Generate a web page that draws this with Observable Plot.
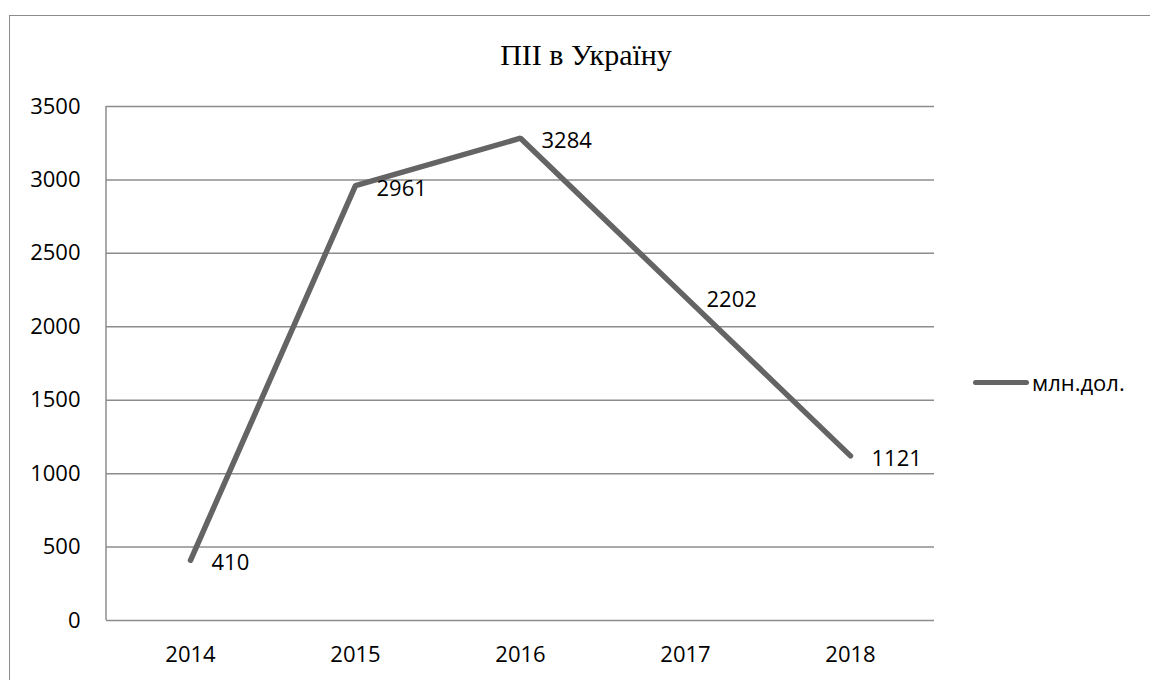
<!DOCTYPE html>
<html>
<head>
<meta charset="utf-8">
<script src="https://cdn.jsdelivr.net/npm/d3@7"></script>
<script src="https://cdn.jsdelivr.net/npm/@observablehq/plot@0.6"></script>
<style>
  html, body { margin: 0; padding: 0; background: #fff; overflow: hidden; }
  #wrap { position: relative; width: 1150px; height: 680px; overflow: hidden; }
  #border { position: absolute; left: 9px; top: 15px; width: 1300px; height: 900px; border: 1.5px solid #8c8c8c; box-sizing: border-box; }
  #title { position: absolute; left: 0; width: 1172px; top: 38px; text-align: center; font-family: "Liberation Serif", "DejaVu Serif", serif; font-size: 30px; color: #000; }
  #legend { position: absolute; left: 973px; top: 367px; display: flex; align-items: center; font-family: "Open Sans", sans-serif; font-size: 22px; color: #000; }
  #legend .sw { width: 56px; height: 5px; background: #646464; border-radius: 3px; margin-right: 3px; }
  #chart { position: absolute; left: 0; top: 0; }
</style>
</head>
<body>
<div id="wrap">
  <div id="border"></div>
  <div id="chart"></div>
  <div id="title">ПІІ в Україну</div>
  <div id="legend"><span class="sw"></span><span>млн.дол.</span></div>
</div>
<script>
const years = ["2014", "2015", "2016", "2017", "2018"];
const values = [410, 2961, 3284, 2202, 1121];
const yTicks = [0, 500, 1000, 1500, 2000, 2500, 3000, 3500];
const seriesName = "млн.дол.";

const data = years.map((y, i) => ({year: y, value: values[i]}));

const chart = Plot.plot({
  width: 1150,
  height: 680,
  marginLeft: 106,
  marginRight: 216,
  marginTop: 106,
  marginBottom: 60,
  style: {fontFamily: "'Open Sans', sans-serif", fontSize: "22px", color: "#000", background: "transparent"},
  x: {type: "point", domain: years, padding: 0.5, label: null},
  y: {domain: [0, 3500], label: null},
  marks: [
    Plot.gridY(yTicks, {stroke: "#8c8c8c", strokeOpacity: 1, strokeWidth: 1.5}),
    Plot.axisY(yTicks, {tickSize: 0, tickPadding: 26, fontSize: 22, fill: "#000", tickFormat: d => String(d)}),
    Plot.axisX(years, {tickSize: 0, tickPadding: 26, fontSize: 22, fill: "#000"}),
    Plot.line(data, {x: "year", y: "value", stroke: "#646464", strokeWidth: 5.5, strokeLinecap: "round", strokeLinejoin: "miter"}),
    Plot.text(data, {x: "year", y: "value", text: d => String(d.value), textAnchor: "start", dx: 21, dy: 3, fontSize: 22, fill: "#000"})
  ]
});
document.getElementById("chart").appendChild(chart);

// left vertical axis line at the plot frame edge, from the scales
const xs = chart.scale("x"), ys = chart.scale("y");
const x0 = xs.range[0];
d3.select(chart).append("line")
  .attr("x1", x0).attr("x2", x0)
  .attr("y1", ys.apply(0)).attr("y2", ys.apply(3500))
  .attr("stroke", "#8c8c8c").attr("stroke-width", 1.5);
</script>
</body>
</html>
